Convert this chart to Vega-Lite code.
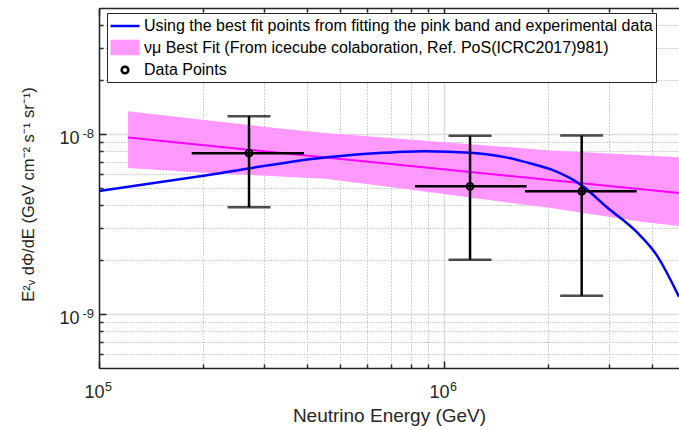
{
  "$schema": "https://vega.github.io/schema/vega-lite/v6.json",
  "width": 580,
  "height": 360,
  "autosize": {"type": "none"},
  "padding": {"left": 99, "top": 8, "right": 0, "bottom": 62},
  "background": "white",
  "config": {"view": {"stroke": null}, "font": "Liberation Sans"},
  "datasets": {
    "band": [
      {"E": 121400, "lo": 6.45e-9, "hi": 1.334e-8},
      {"E": 196300, "lo": 6.10e-9, "hi": 1.202e-8},
      {"E": 304200, "lo": 5.84e-9, "hi": 1.092e-8},
      {"E": 452100, "lo": 5.63e-9, "hi": 1.010e-8},
      {"E": 745700, "lo": 4.98e-9, "hi": 9.38e-9},
      {"E": 1190000, "lo": 4.43e-9, "hi": 8.76e-9},
      {"E": 2043000, "lo": 3.87e-9, "hi": 8.08e-9},
      {"E": 3775000, "lo": 3.24e-9, "hi": 7.60e-9},
      {"E": 4800000, "lo": 3.08e-9, "hi": 7.42e-9}
    ],
    "center": [
      {"E": 121400, "F": 9.54e-9},
      {"E": 4800000, "F": 4.69e-9}
    ],
    "fit": [
      {"E": 100000, "F": 4.81e-9},
      {"E": 196300, "F": 5.81e-9},
      {"E": 452100, "F": 7.39e-9},
      {"E": 631000, "F": 7.80e-9},
      {"E": 881000, "F": 8.01e-9},
      {"E": 1190000, "F": 7.85e-9},
      {"E": 1502000, "F": 7.42e-9},
      {"E": 1796000, "F": 6.82e-9},
      {"E": 2043000, "F": 6.34e-9},
      {"E": 2507000, "F": 5.17e-9},
      {"E": 2962000, "F": 3.92e-9},
      {"E": 3619000, "F": 2.85e-9},
      {"E": 4135000, "F": 2.12e-9},
      {"E": 4800000, "F": 1.243e-9}
    ],
    "pts": [
      {"E": 272200, "F": 7.81e-9, "Elo": 185700, "Ehi": 392800, "Flo": 3.91e-9, "Fhi": 1.252e-8},
      {"E": 1190000, "F": 5.11e-9, "Elo": 824000, "Ehi": 1736000, "Flo": 2.00e-9, "Fhi": 9.75e-9},
      {"E": 2507000, "F": 4.79e-9, "Elo": 1717000, "Ehi": 3619000, "Flo": 1.26e-9, "Fhi": 9.78e-9}
    ]
  },
  "resolve": {"axis": {"x": "independent", "y": "independent"}},
  "layer": [
    {
      "data": {"name": "band"},
      "mark": {"type": "area", "clip": true, "opacity": 1},
      "encoding": {
        "x": {
          "field": "E", "type": "quantitative",
          "scale": {"type": "log", "domain": [100000, 4800000], "nice": false},
          "axis": {
            "orient": "bottom",
            "values": [100000, 200000, 300000, 400000, 500000, 600000, 700000, 800000, 900000, 1000000, 2000000, 3000000, 4000000],
            "labelExpr": "datum.value == 100000 || datum.value == 1000000 ? '10' : ''",
            "labelFlush": false,
            "labelOverlap": false,
            "labelFont": "Liberation Sans",
            "labelFontSize": 18,
            "labelColor": "#262626",
            "labelPadding": 22,
            "labelOffset": -5,
            "grid": true,
            "gridColor": {"condition": {"test": "datum.value == 100000 || datum.value == 1000000", "value": "#dcdcdc"}, "value": "#c2c2c2"},
            "gridDash": {"condition": {"test": "datum.value == 100000 || datum.value == 1000000", "value": []}, "value": [1.5, 1.5]},
            "gridWidth": {"condition": {"test": "datum.value == 100000 || datum.value == 1000000", "value": 1.5}, "value": 1},
            "tickSize": {"condition": {"test": "datum.value == 100000 || datum.value == 1000000", "value": -7}, "value": -4},
            "tickColor": "#262626",
            "tickWidth": 1.5,
            "domainColor": "#262626",
            "domainWidth": 1.5,
            "title": "Neutrino Energy (GeV)",
            "titleFont": "Liberation Sans",
            "titleFontSize": 19,
            "titleFontWeight": "normal",
            "titleColor": "#262626",
            "titleX": 290,
            "titleY": 53,
            "titleAlign": "center",
            "titleBaseline": "alphabetic"
          }
        },
        "y": {
          "field": "hi", "type": "quantitative",
          "scale": {"type": "log", "domain": [5e-10, 5e-8], "nice": false},
          "axis": {
            "orient": "left",
            "values": [6e-10, 7e-10, 8e-10, 9e-10, 1e-9, 2e-9, 3e-9, 4e-9, 5e-9, 6e-9, 7e-9, 8e-9, 9e-9, 1e-8, 2e-8, 3e-8, 4e-8],
            "labelExpr": "datum.value == 1e-8 || datum.value == 1e-9 ? '10' : ''",
            "labelOverlap": false,
            "labelFont": "Liberation Sans",
            "labelFontSize": 18,
            "labelColor": "#262626",
            "labelPadding": 27,
            "labelOffset": 5,
            "labelBaseline": "middle",
            "grid": true,
            "gridColor": {"condition": {"test": "datum.value == 1e-8 || datum.value == 1e-9", "value": "#dcdcdc"}, "value": "#c2c2c2"},
            "gridDash": {"condition": {"test": "datum.value == 1e-8 || datum.value == 1e-9", "value": []}, "value": [1.5, 1.5]},
            "gridWidth": {"condition": {"test": "datum.value == 1e-8 || datum.value == 1e-9", "value": 1.5}, "value": 1},
            "tickSize": {"condition": {"test": "datum.value == 1e-8 || datum.value == 1e-9", "value": -7}, "value": -4},
            "tickColor": "#262626",
            "tickWidth": 1.5,
            "domainColor": "#262626",
            "domainWidth": 1.5,
            "title": "E²ᵥ dΦ/dE  (GeV cm⁻² s⁻¹ sr⁻¹)",
            "titleFont": "Liberation Sans",
            "titleFontSize": 16.5,
            "titleFontWeight": "normal",
            "titleColor": "#262626",
            "titleX": -71,
            "titleY": 186,
            "titleAlign": "center",
            "titleBaseline": "middle",
            "titleAngle": -90
          }
        },
        "y2": {"field": "lo"},
        "fill": {
          "datum": "νμ Best Fit (From icecube colaboration, Ref. PoS(ICRC2017)981)",
          "type": "nominal",
          "scale": {
            "domain": ["Using the best fit points from fitting the pink band and experimental data", "νμ Best Fit (From icecube colaboration, Ref. PoS(ICRC2017)981)", "Data Points"],
            "range": ["transparent", "#ff99ff", "transparent"]
          },
          "legend": {
            "orient": "none",
            "legendX": 8,
            "legendY": 5,
            "direction": "vertical",
            "title": null,
            "labelFont": "Liberation Sans",
            "labelFontSize": 16,
            "labelColor": "#000000",
            "labelLimit": 700,
            "symbolSize": 300,
            "symbolStrokeWidth": 2.5,
            "symbolOpacity": 1,
            "padding": 3,
            "symbolOffset": 5,
            "labelOffset": 9,
            "rowPadding": 0.5,
            "strokeColor": "#262626",
            "fillColor": "#ffffff"
          }
        },
        "stroke": {
          "datum": "νμ Best Fit (From icecube colaboration, Ref. PoS(ICRC2017)981)",
          "type": "nominal",
          "scale": {
            "domain": ["Using the best fit points from fitting the pink band and experimental data", "νμ Best Fit (From icecube colaboration, Ref. PoS(ICRC2017)981)", "Data Points"],
            "range": ["#0000ff", "transparent", "#000000"]
          }
        }
      }
    },
    {
      "data": {"name": "center"},
      "mark": {"type": "line", "clip": true, "color": "#ff00ff", "strokeWidth": 2},
      "encoding": {
        "x": {
          "field": "E", "type": "quantitative",
          "axis": {
            "orient": "top",
            "values": [100000, 200000, 300000, 400000, 500000, 600000, 700000, 800000, 900000, 1000000, 2000000, 3000000, 4000000],
            "labels": false,
            "grid": false,
            "title": null,
            "tickSize": {"condition": {"test": "datum.value == 100000 || datum.value == 1000000", "value": -7}, "value": -4},
            "tickColor": "#262626",
            "tickWidth": 1.5,
            "domainColor": "#262626",
            "domainWidth": 1.5
          }
        },
        "y": {"field": "F", "type": "quantitative", "axis": null}
      }
    },
    {
      "data": {"name": "fit"},
      "mark": {"type": "line", "clip": true, "strokeWidth": 2.5, "interpolate": "monotone"},
      "encoding": {
        "x": {
          "field": "E", "type": "quantitative",
          "axis": {
            "orient": "bottom",
            "values": [100000, 1000000],
            "labelExpr": "datum.value == 100000 ? '5' : '6'",
            "labelFlush": false,
            "labelOverlap": false,
            "labelFont": "Liberation Sans",
            "labelFontSize": 12.5,
            "labelColor": "#262626",
            "labelPadding": 12,
            "labelOffset": 9,
            "ticks": false,
            "tickSize": 0,
            "domain": false,
            "grid": false,
            "title": null
          }
        },
        "y": {
          "field": "F", "type": "quantitative",
          "axis": {
            "orient": "left",
            "values": [1e-9, 1e-8],
            "labelExpr": "datum.value == 1e-8 ? '-8' : '-9'",
            "labelOverlap": false,
            "labelFont": "Liberation Sans",
            "labelFontSize": 13,
            "labelColor": "#262626",
            "labelAlign": "left",
            "labelBaseline": "middle",
            "labelPadding": 17,
            "labelOffset": 0,
            "ticks": false,
            "tickSize": 0,
            "domain": false,
            "grid": false,
            "title": null
          }
        },
        "stroke": {"datum": "Using the best fit points from fitting the pink band and experimental data", "type": "nominal"}
      }
    },
    {
      "data": {"name": "pts"},
      "mark": {"type": "rule", "clip": true, "color": "#000000", "strokeWidth": 2.5},
      "encoding": {
        "x": {"field": "E", "type": "quantitative", "axis": null},
        "y": {"field": "Flo", "type": "quantitative", "axis": null},
        "y2": {"field": "Fhi"}
      }
    },
    {
      "data": {"name": "pts"},
      "mark": {"type": "rule", "clip": true, "color": "#000000", "strokeWidth": 2.5},
      "encoding": {
        "x": {"field": "Elo", "type": "quantitative", "axis": null},
        "x2": {"field": "Ehi"},
        "y": {"field": "F", "type": "quantitative", "axis": null}
      }
    },
    {
      "data": {"name": "pts"},
      "mark": {"type": "tick", "orient": "horizontal", "clip": true, "color": "#000000", "size": 43, "thickness": 2.5},
      "encoding": {
        "x": {"field": "E", "type": "quantitative", "axis": null},
        "y": {"field": "Fhi", "type": "quantitative", "axis": null}
      }
    },
    {
      "data": {"name": "pts"},
      "mark": {"type": "tick", "orient": "horizontal", "clip": true, "color": "#000000", "size": 43, "thickness": 2.5},
      "encoding": {
        "x": {"field": "E", "type": "quantitative", "axis": null},
        "y": {"field": "Flo", "type": "quantitative", "axis": null}
      }
    },
    {
      "data": {"name": "pts"},
      "mark": {"type": "point", "filled": false, "strokeWidth": 2, "opacity": 1},
      "encoding": {
        "x": {"field": "E", "type": "quantitative", "axis": null},
        "y": {"field": "F", "type": "quantitative", "axis": null},
        "stroke": {"datum": "Data Points", "type": "nominal"},
        "shape": {
          "datum": "Data Points",
          "type": "nominal",
          "scale": {
            "domain": ["Using the best fit points from fitting the pink band and experimental data", "νμ Best Fit (From icecube colaboration, Ref. PoS(ICRC2017)981)", "Data Points"],
            "range": ["M-1.675,0H1.675", "M-1.675,-0.9H1.675V0.9H-1.675Z", "circle"]
          }
        },
        "size": {
          "datum": "Data Points",
          "type": "nominal",
          "scale": {
            "type": "ordinal",
            "domain": ["Using the best fit points from fitting the pink band and experimental data", "νμ Best Fit (From icecube colaboration, Ref. PoS(ICRC2017)981)", "Data Points"],
            "range": [300, 300, 45]
          }
        }
      }
    }
  ]
}
